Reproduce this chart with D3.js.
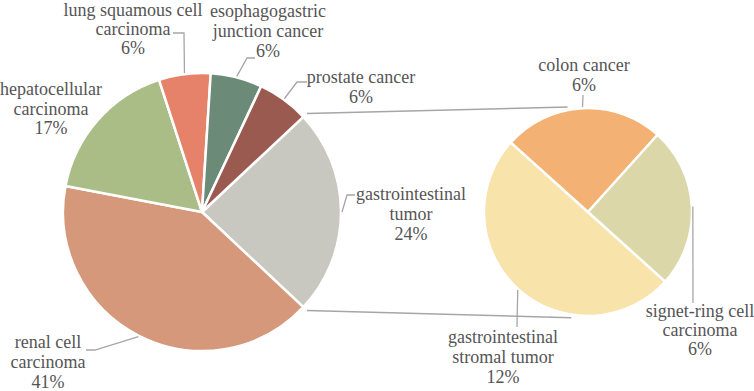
<!DOCTYPE html>
<html>
<head>
<meta charset="utf-8">
<script src="https://cdn.jsdelivr.net/npm/d3@7"></script>
<style>
  html, body { margin: 0; padding: 0; background: #fff; }
  svg { display: block; }
</style>
</head>
<body>
<svg id="chart" width="754" height="391"></svg>
<script>
// ---- data ----
const mainCategories = ["gastrointestinal tumor", "renal cell carcinoma", "hepatocellular carcinoma",
                        "lung squamous cell carcinoma", "esophagogastric junction cancer", "prostate cancer"];
const mainValues = [24, 41, 17, 6, 6, 6];
const mainColors = ["#C9C8C0", "#D5987A", "#AABD87", "#E7826A", "#6B8B78", "#9B5A50"];

const subCategories = ["gastrointestinal stromal tumor", "colon cancer", "signet-ring cell carcinoma"];
const subValues = [12, 6, 6];
const subColors = ["#F8E3AB", "#F3B274", "#DCD7A9"];

// ---- layout ----
const labelLines = {
  "gastrointestinal tumor": ["gastrointestinal", "tumor"],
  "renal cell carcinoma": ["renal cell", "carcinoma"],
  "hepatocellular carcinoma": ["hepatocellular", "carcinoma"],
  "lung squamous cell carcinoma": ["lung squamous cell", "carcinoma"],
  "esophagogastric junction cancer": ["esophagogastric", "junction cancer"],
  "prostate cancer": ["prostate cancer"],
  "gastrointestinal stromal tumor": ["gastrointestinal", "stromal tumor"],
  "colon cancer": ["colon cancer"],
  "signet-ring cell carcinoma": ["signet-ring cell", "carcinoma"]
};
const labelLayout = {
  "gastrointestinal tumor": {x: 411, y: 200, dy: 20, leader: [[347, 195], [355, 195]]},
  "renal cell carcinoma": {x: 48, y: 348, dy: 20, leader: [[95, 350], [86, 350]]},
  "hepatocellular carcinoma": {x: 51, y: 95, dy: 19.5, leader: null},
  "lung squamous cell carcinoma": {x: 133, y: 16, dy: 19, leader: [[184, 33], [173, 33]]},
  "esophagogastric junction cancer": {x: 268, y: 17, dy: 20, leader: [[247, 58], [255, 58]]},
  "prostate cancer": {x: 361, y: 83, dy: 20, leader: [[297, 82], [307, 82]]},
  "gastrointestinal stromal tumor": {x: 503, y: 343, dy: 20, leader: [[517, 327]]},
  "colon cancer": {x: 584, y: 71, dy: 20, leader: [[583, 95]]},
  "signet-ring cell carcinoma": {x: 700, y: 317, dy: 19, leader: [[693, 303]]}
};

const main = {cx: 202, cy: 212, r: 139};
const sub = {cx: 588, cy: 212, r: 104};

const svg = d3.select("#chart");
const deg = Math.PI / 180;
const total = d3.sum(mainValues);
const fmt = v => d3.format(".0f")(v / total * 100) + "%";

const gAngle = mainValues[0] / total * 2 * Math.PI;
const mainPie = d3.pie().sort(null).startAngle(Math.PI / 2 - gAngle / 2).endAngle(Math.PI / 2 - gAngle / 2 + 2 * Math.PI);
const mainArcs = mainPie(mainValues).map((a, i) => Object.assign(a, {name: mainCategories[i], color: mainColors[i]}));

const subPie = d3.pie().sort(null).startAngle(132 * deg).endAngle(132 * deg + 2 * Math.PI);
const subArcs = subPie(subValues).map((a, i) => Object.assign(a, {name: subCategories[i], color: subColors[i]}));

const mainArc = d3.arc().innerRadius(0).outerRadius(main.r);
const subArc = d3.arc().innerRadius(0).outerRadius(sub.r);

const pt = (c, r, a) => [c.cx + r * Math.sin(a), c.cy - r * Math.cos(a)];

const g0 = mainArcs[0];
const connectors = [
  [pt(main, main.r + 5, g0.startAngle), pt(sub, sub.r + 3, -11 * deg)],
  [pt(main, main.r + 5, g0.endAngle), pt(sub, sub.r + 3, 189 * deg)]
];
svg.append("g").selectAll("line").data(connectors).join("line")
  .attr("x1", d => d[0][0]).attr("y1", d => d[0][1])
  .attr("x2", d => d[1][0]).attr("y2", d => d[1][1])
  .attr("stroke", "#A6A6A6").attr("stroke-width", 1.5);

svg.append("g").attr("transform", `translate(${main.cx},${main.cy})`)
  .selectAll("path").data(mainArcs).join("path")
  .attr("d", mainArc).attr("fill", d => d.color)
  .attr("stroke", "#fff").attr("stroke-width", 2.5).attr("stroke-linejoin", "round");

svg.append("g").attr("transform", `translate(${sub.cx},${sub.cy})`)
  .selectAll("path").data(subArcs).join("path")
  .attr("d", subArc).attr("fill", d => d.color)
  .attr("stroke", "#fff").attr("stroke-width", 2.5).attr("stroke-linejoin", "round");

function drawLabels(arcs, c) {
  arcs.forEach(a => {
    const L = labelLayout[a.name];
    const mid = (a.startAngle + a.endAngle) / 2;
    if (L.leader) {
      const pts = [pt(c, c.r + 1, mid)].concat(L.leader);
      svg.append("path").attr("d", d3.line()(pts))
        .attr("fill", "none").attr("stroke", "#A6A6A6").attr("stroke-width", 1.3);
    }
    const lines = labelLines[a.name].concat([fmt(a.value)]);
    lines.forEach((s, i) => {
      svg.append("text")
        .attr("x", L.x).attr("y", L.y + i * L.dy)
        .attr("text-anchor", "middle")
        .attr("font-family", "Liberation Serif")
        .attr("font-size", 18)
        .attr("fill", "#555555")
        .text(s);
    });
  });
}
drawLabels(mainArcs, main);
drawLabels(subArcs, sub);
</script>
</body>
</html>
